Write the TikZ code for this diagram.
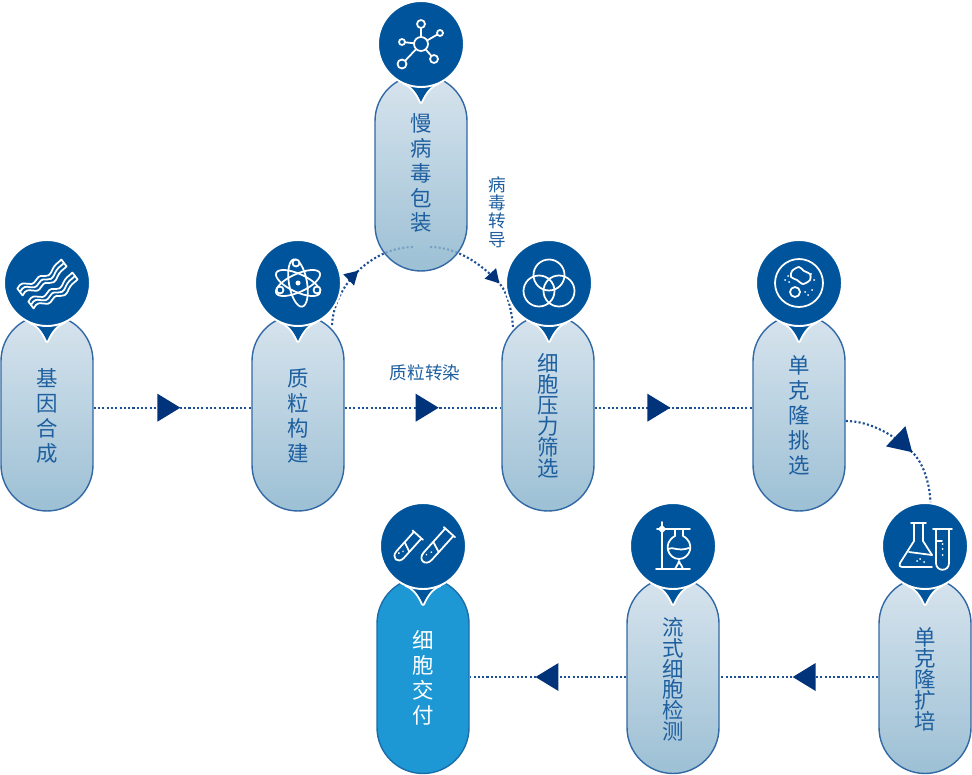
\documentclass[tikz,border=0pt]{standalone}
\usepackage{fontspec}
\usepackage{xcolor}
\usepackage{tikz}
\usetikzlibrary{arrows.meta,backgrounds,decorations.markings}
\newfontfamily\cjk{Noto Sans CJK SC}
\definecolor{pinblue}{RGB}{0,84,155}
\definecolor{tipblue}{RGB}{0,51,122}
\definecolor{dotblue}{RGB}{30,80,150}
\definecolor{edgeblue}{RGB}{50,105,165}
\definecolor{textblue}{RGB}{30,95,160}
\definecolor{cardtop}{RGB}{205,221,233}
\definecolor{cardbot}{RGB}{132,176,202}
\definecolor{donefill}{RGB}{30,152,212}
\definecolor{doneedge}{RGB}{25,110,170}
\newcommand{\cardskip}{\rule{0pt}{13.2pt}}
\newcommand{\tightskip}{\rule{0pt}{14.6pt}}
\tikzset{
  stepcard/.style={draw=edgeblue,line width=0.8pt,rounded corners=0.92cm,minimum width=1.84cm,minimum height=3.92cm,
    inner sep=0pt,align=center,top color=cardtop,bottom color=cardbot,fill opacity=0.8,text opacity=1,
    text=textblue,font=\cjk\fontsize{12.2}{14.2}\selectfont},
  tightcard/.style={stepcard,font=\cjk\fontsize{12.2}{11.9}\selectfont},
  donecard/.style={stepcard,top color=donefill,bottom color=donefill,fill opacity=1,draw=doneedge,text=white},
  iconball/.style={circle,fill=pinblue,draw=white,line width=1.1pt,minimum size=1.72cm,inner sep=0pt},
  pintail/.style={fill=pinblue,preaction={draw=white,line width=2.2pt,line join=round}},
  iconline/.style={draw=white,line width=1pt,line cap=round,line join=round},
  flowline/.style={dotblue,line width=1.2pt,dash pattern=on 1.2pt off 1.25pt},
  flowtext/.style={text=textblue,inner sep=0pt,align=center,font=\cjk\fontsize{10}{10.4}\selectfont},
  bigtip/.style={postaction={decorate,decoration={markings,mark=at position #1 with {\arrow{Triangle[length=0.46cm,width=0.55cm,color=tipblue]}}}}},
  smalltip/.style={postaction={decorate,decoration={markings,mark=at position #1 with {\arrow{Triangle[length=0.27cm,width=0.3cm,color=tipblue]}}}}},
}
\newcommand{\pinball}[2]{%
  \begin{scope}[shift={(#2)}]
    \path[pintail] (-17,39) .. controls (-9,42) and (-4,49) .. (0,58) .. controls (4,49) and (9,42) .. (17,39) -- cycle;
    \node[iconball] (#1) at (0,0) {};
  \end{scope}}
\begin{document}
\begin{tikzpicture}[x=0.02cm,y=-0.02cm]
  \useasboundingbox (0,0) rectangle (972,774);
  % cards
  \node[stepcard] (gene) at (47,413) {\cardskip 基\\因\\合\\成};
  \node[stepcard] (plasmid) at (298,413) {\cardskip 质\\粒\\构\\建};
  \node[stepcard] (lenti) at (421,173) {慢\\病\\毒\\包\\装};
  \node[tightcard] (screen) at (548,413) {\cardskip 细\\胞\\压\\力\\筛\\选};
  \node[stepcard] (pick) at (799,413) {\cardskip 单\\克\\隆\\挑\\选};
  \node[tightcard] (expand) at (925,675.5) {\tightskip 单\\克\\隆\\扩\\培};
  \node[tightcard] (flow) at (673,675.5) {\tightskip 流\\式\\细\\胞\\检\\测};
  \node[donecard] (deliver) at (423,675.5) {\cardskip 细\\胞\\交\\付};
  % round icons
  \pinball{geneball}{47,283}
  \pinball{plasmidball}{298,283}
  \pinball{lentiball}{421,44}
  \pinball{screenball}{549,283}
  \pinball{pickball}{799,283}
  \pinball{expandball}{925,546}
  \pinball{flowball}{673,546}
  \pinball{deliverball}{423,546}
  % connectors
  \coordinate (plasmidout) at (332,325);
  \coordinate (lentiin) at (414,247);
  \coordinate (lentiout) at (430,247);
  \coordinate (screenin) at (513,328);
  \begin{pgfonlayer}{background}
    \draw[flowline,bigtip=0.55] ([yshift=0.106cm]gene.east) -- ([yshift=0.106cm]plasmid.west);
    \draw[flowline,bigtip=0.6] ([yshift=0.106cm]plasmid.east) -- ([yshift=0.106cm]screen.west);
    \draw[flowline,bigtip=0.48] ([yshift=0.106cm]screen.east) -- ([yshift=0.106cm]pick.west);
    \draw[flowline,smalltip=0.5] (plasmidout) .. controls (334,285) and (372,247) .. (lentiin);
    \draw[flowline,smalltip=0.63] (lentiout) .. controls (455,247) and (480,262) .. (500,284) .. controls (507,292) and (512,310) .. (screenin);
    \draw[flowline,bigtip=0.58] ([yshift=-0.16cm]pick.east) .. controls (870,421) and (895,435) .. (914,454) .. controls (924,465) and (930,485) .. (expandball.83);
    \draw[flowline,bigtip=0.54] ([yshift=-0.03cm]expand.west) -- ([yshift=-0.03cm]flow.east);
    \draw[flowline,bigtip=0.58] ([yshift=-0.03cm]flow.west) -- ([yshift=-0.03cm]deliver.east);
  \end{pgfonlayer}
  \node[flowtext] (plasmidlabel) at (425,373) {质粒转染};
  \node[flowtext] (viruslabel) at (497,212) {病\\毒\\转\\导};
  % ribbons
  \begin{scope}[shift={(geneball.center)}]
    \foreach \rx/\ry in {0/0,11/13}{
      \foreach \w in {-1,0,1}
        \draw[iconline,shift={(\rx+2.6*\w,\ry+3.4*\w)}] (-27,9) .. controls (-21,-3) and (-14,11) .. (-8,0) .. controls (-3,-9) and (3,3) .. (8,-10) .. controls (10,-15) and (14,-17) .. (17,-20);
      \draw[iconline,shift={(\rx,\ry)}] (-29.6,5.6) -- (-24.4,12.4) (14.4,-23.4) -- (19.6,-16.6);
    }
  \end{scope}
  % atom
  \begin{scope}[shift={(plasmidball.center)}]
    \foreach \ang in {25,-25,100}
      \draw[iconline,rotate=\ang] (0,0) ellipse [x radius=24,y radius=9];
    \fill[white] (0,0) circle [radius=2.5];
    \foreach \ex/\ey in {-18/7,19/7,-2/-20}
      \draw[iconline,fill=pinblue] (\ex,\ey) circle [radius=3.5];
  \end{scope}
  % network
  \begin{scope}[shift={(lentiball.center)}]
    \foreach \sx/\sy/\sr in {0/-20/4,19/-11/3,-19/-2/3,13/15/4,-19/20/4.5}{
      \draw[iconline] (0,0) -- (\sx,\sy);
      \draw[iconline,fill=pinblue] (\sx,\sy) circle [radius=\sr];
    }
    \draw[iconline,fill=pinblue] (0,0) circle [radius=7];
  \end{scope}
  % rings
  \begin{scope}[shift={(screenball.center)}]
    \foreach \cx/\cy in {0/-8,-10/8,10/8}
      \draw[iconline] (\cx,\cy) circle [radius=15.5];
  \end{scope}
  % dish
  \begin{scope}[shift={(pickball.center)}]
    \draw[iconline] (0,0) circle [radius=24];
    \draw[iconline] plot[smooth cycle] coordinates {(-7,-12) (0,-16) (5,-12) (11,-9) (11,-3) (4,1) (-2,-3) (-8,-6)};
    \draw[iconline] (-4,9) circle [radius=5];
    \foreach \dx/\dy in {-14/-3,-10/-1,-11/-7,15/-3,12/-9,6/9,13/7,9/12}
      \fill[white] (\dx,\dy) circle [radius=1];
  \end{scope}
  % flask and tube
  \begin{scope}[shift={(expandball.center)}]
    \draw[iconline] (-14,-23) -- (1,-23) (-11,-23) -- (-11,-5) -- (-25,17) .. controls (-26,20) and (-25,21) .. (-23,21) -- (7,21) (-2,-23) -- (-2,-5) -- (7,9);
    \draw[iconline] (-16,6) -- (7,9);
    \foreach \dx/\dy in {-5/13,-1/16,-8/15}
      \fill[white] (\dx,\dy) circle [radius=1];
    \draw[iconline] (8,-17) -- (27,-17) (11,-17) -- (11,17) .. controls (11,26) and (24,26) .. (24,17) -- (24,-17);
    \draw[iconline] (11,-5) -- (17,-5);
    \foreach \dy in {-2,3,9}
      \fill[white] (17.5,\dy) circle [radius=1];
  \end{scope}
  % stand
  \begin{scope}[shift={(flowball.center)}]
    \draw[iconline] (-17,23) -- (17,23) (-11,-24) -- (-11,23) (-16,-17) -- (17,-17);
    \draw[iconline] (-11,-20) -- (-8,-17) -- (-11,-14) -- (-14,-17) -- cycle;
    \draw[iconline] (2,-17) -- (2,-10) .. controls (-11,-3) and (-5,13) .. (6,13) .. controls (17,13) and (23,-3) .. (10,-10) -- (10,-17);
    \draw[iconline] (-5,3) .. controls (0,0) and (4,6) .. (16,2);
    \draw[iconline] (2,23) .. controls (3,20) and (5,19) .. (6,15) .. controls (7,19) and (10,20) .. (10,23);
  \end{scope}
  % tubes
  \begin{scope}[shift={(deliverball.center)}]
    \begin{scope}[shift={(-16,1)},rotate=-42]
      \draw[iconline] (-7,-16) -- (7,-16) (-5,-16) -- (-5,10) .. controls (-5,19) and (5,19) .. (5,10) -- (5,-16);
      \draw[iconline] (-5,-2) -- (5,2);
      \fill[white] (0,6) circle [radius=1] (-2,10) circle [radius=1];
    \end{scope}
    \begin{scope}[shift={(13,1)},rotate=-42]
      \draw[iconline] (-7.5,-20) -- (7.5,-20) (-5.5,-20) -- (-5.5,12) .. controls (-5.5,22) and (5.5,22) .. (5.5,12) -- (5.5,-20);
      \draw[iconline] (-5.5,-2) -- (5.5,2);
      \fill[white] (0,7) circle [radius=1] (-2,12) circle [radius=1];
    \end{scope}
  \end{scope}
\end{tikzpicture}
\end{document}
